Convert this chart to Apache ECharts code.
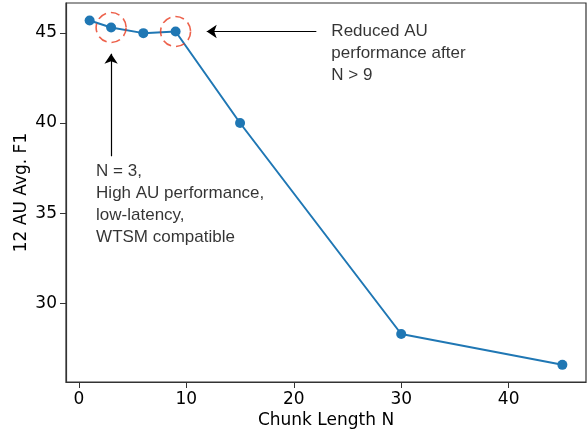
<!DOCTYPE html>
<html>
<head>
<meta charset="utf-8">
<script src="https://cdn.jsdelivr.net/npm/echarts@6/dist/echarts.min.js"></script>
<style>
  html, body { margin: 0; padding: 0; background: #fff; }
  #chart { width: 588px; height: 434px; }
</style>
</head>
<body>
<div id="chart"></div>
<script>
// chunk length vs 12-AU average F1
const chunkLengths = [1, 3, 6, 9, 15, 30, 45];
const avgF1 = [45.68, 45.29, 44.98, 45.07, 40.0, 28.31, 26.6];
const circledIdx = [1, 3];

const xTicks = [0, 10, 20, 30, 40];
const yTicks = [30, 35, 40, 45];

// annotation arrows: [tail, head] in data units
const arrows = [
  [[22.1, 45.07], [11.9, 45.07]],
  [[3.0, 38.16], [3.0, 43.84]]
];
const notes = [
  { at: [23.5, 45.7], text: 'Reduced AU\nperformance after\nN > 9' },
  { at: [1.6, 37.92], text: 'N = 3,\nHigh AU performance,\nlow-latency,\nWTSM compatible' }
];

const axisColor = '#333';
const tickFont = { fontFamily: 'DejaVu Sans', fontSize: 17, color: '#000' };

const chart = echarts.init(document.getElementById('chart'));

chart.setOption({
  animation: false,
  grid: {
    left: 66, right: 2, top: 3, bottom: 50,
    show: true, borderColor: axisColor, borderWidth: 1.2,
    backgroundColor: 'transparent'
  },
  xAxis: {
    type: 'value', min: -1.2, max: 47.2,
    name: 'Chunk Length N', nameLocation: 'middle', nameGap: 30,
    nameMoveOverlap: false,
    nameTextStyle: tickFont,
    axisLine: { show: true, onZero: false, lineStyle: { color: axisColor, width: 1.2 } },
    axisTick: { show: true, length: 6, customValues: xTicks, lineStyle: { color: axisColor } },
    axisLabel: { customValues: xTicks, margin: 9, ...tickFont },
    splitLine: { show: false }
  },
  yAxis: {
    type: 'value', min: 25.65, max: 46.65,
    name: '12 AU Avg. F1', nameLocation: 'middle', nameGap: 36,
    nameMoveOverlap: false,
    nameTextStyle: tickFont,
    axisLine: { show: true, onZero: false, lineStyle: { color: axisColor, width: 1.2 } },
    axisTick: { show: true, length: 6, customValues: yTicks, lineStyle: { color: axisColor } },
    axisLabel: { customValues: yTicks, margin: 9, ...tickFont },
    splitLine: { show: false }
  },
  series: [
    {
      type: 'line',
      data: chunkLengths.map((x, i) => [x, avgF1[i]]),
      symbol: 'circle', symbolSize: 10,
      lineStyle: { color: '#1f77b4', width: 2 },
      itemStyle: { color: '#1f77b4' },
      z: 3
    },
    {
      type: 'scatter',
      data: circledIdx.map(i => [chunkLengths[i], avgF1[i]]),
      symbol: 'circle', symbolSize: 30,
      itemStyle: {
        color: 'transparent', borderColor: '#e83a1e', borderWidth: 1.6,
        borderType: [9, 5]
      },
      z: 4
    },
    {
      type: 'lines',
      coordinateSystem: 'cartesian2d',
      data: arrows.map(a => ({ coords: a })),
      symbol: ['none', 'arrow'], symbolSize: [8, 10],
      lineStyle: { color: '#000', width: 1.2, opacity: 1 },
      z: 5
    },
    {
      type: 'scatter',
      data: notes.map(n => ({ value: n.at, text: n.text })),
      symbolSize: 0,
      label: {
        show: true, position: [0, 0], align: 'left', verticalAlign: 'top',
        formatter: p => p.data.text,
        fontFamily: 'Liberation Sans', fontSize: 17, lineHeight: 22, color: '#000'
      },
      silent: true
    }
  ]
});
</script>
</body>
</html>
